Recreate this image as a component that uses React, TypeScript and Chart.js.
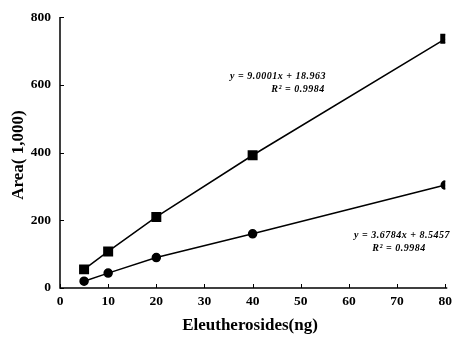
import React, { useEffect, useRef } from "react";
import { Chart, registerables } from "chart.js";

Chart.register(...registerables);

const concentrations = [5, 10, 20, 40, 80];
const seriesA = [55, 108, 210, 392, 736];
const seriesB = [20, 44, 90, 160, 304];
const xTicks = [0, 10, 20, 30, 40, 50, 60, 70, 80];
const yTicks = [0, 200, 400, 600, 800];
const xTitle = "Eleutherosides(ng)";
const yTitle = "Area( 1,000)";
const eqA = ["y = 9.0001x + 18.963", "R² = 0.9984"];
const eqB = ["y = 3.6784x + 8.5457", "R² = 0.9984"];

const SERIF = "'Liberation Serif', 'DejaVu Serif', serif";

const decorPlugin = {
  id: "decor",
  afterDraw(chart: any) {
    const { ctx, chartArea, scales } = chart;
    const xs = scales.x;
    const ys = scales.y;
    ctx.save();
    ctx.strokeStyle = "#000";
    ctx.lineWidth = 1.5;
    ctx.beginPath();
    ctx.moveTo(chartArea.left, chartArea.top);
    ctx.lineTo(chartArea.left, chartArea.bottom);
    ctx.lineTo(chartArea.right + 2, chartArea.bottom);
    ctx.stroke();
    ctx.lineWidth = 1;
    ctx.beginPath();
    xTicks.forEach((v) => {
      const px = Math.round(xs.getPixelForValue(v)) + 0.5;
      ctx.moveTo(px, chartArea.bottom);
      ctx.lineTo(px, chartArea.bottom - 4);
    });
    yTicks.forEach((v) => {
      const py = Math.round(ys.getPixelForValue(v)) + 0.5;
      ctx.moveTo(chartArea.left, py);
      ctx.lineTo(chartArea.left + 4, py);
    });
    ctx.stroke();
    ctx.fillStyle = "#000";
    ctx.font = `bold 17px ${SERIF}`;
    ctx.textAlign = "center";
    ctx.textBaseline = "middle";
    ctx.fillText(xTitle, 250, 326);
    ctx.save();
    ctx.translate(19, 155);
    ctx.rotate(-Math.PI / 2);
    ctx.fillText(yTitle, 0, 0);
    ctx.restore();
    ctx.font = `italic bold 10px ${SERIF}`;
    (ctx as any).letterSpacing = "0.5px";
    ctx.fillText(eqA[0], 278, 76);
    ctx.fillText(eqA[1], 298, 89);
    ctx.fillText(eqB[0], 402, 235);
    ctx.fillText(eqB[1], 399, 248);
    ctx.restore();
  },
};

export default function App() {
  const ref = useRef<HTMLCanvasElement | null>(null);
  useEffect(() => {
    if (!ref.current) return;
    const chart = new Chart(ref.current, {
      type: "scatter",
      data: {
        datasets: [
          {
            data: concentrations.map((x, i) => ({ x, y: seriesA[i] })),
            showLine: true,
            borderColor: "#000",
            backgroundColor: "#000",
            borderWidth: 1.5,
            pointStyle: "rect",
            pointRadius: 6,
          },
          {
            data: concentrations.map((x, i) => ({ x, y: seriesB[i] })),
            showLine: true,
            borderColor: "#000",
            backgroundColor: "#000",
            borderWidth: 1.5,
            pointStyle: "circle",
            pointRadius: 4,
          },
        ],
      },
      options: {
        responsive: false,
        animation: false,
        layout: { padding: { top: 13, right: 7, left: 0, bottom: 0 } },
        plugins: { legend: { display: false }, tooltip: { enabled: false } },
        scales: {
          x: {
            type: "linear",
            min: 0,
            max: 80,
            border: { display: false },
            grid: { display: false, drawTicks: false },
            afterBuildTicks: (s: any) => {
              s.ticks = xTicks.map((v) => ({ value: v }));
            },
            afterFit: (s: any) => {
              s.height = 64;
            },
            ticks: {
              padding: 5,
              color: "#000",
              font: { family: SERIF, weight: "bold", size: 13.5 },
              maxRotation: 0,
            },
          },
          y: {
            type: "linear",
            min: 0,
            max: 800,
            border: { display: false },
            grid: { display: false, drawTicks: false },
            afterBuildTicks: (s: any) => {
              s.ticks = yTicks.map((v) => ({ value: v }));
            },
            afterFit: (s: any) => {
              s.width = 60;
            },
            ticks: {
              padding: 9,
              color: "#000",
              font: { family: SERIF, weight: "bold", size: 13.5 },
            },
          },
        },
      },
      plugins: [decorPlugin],
    } as any);
    return () => chart.destroy();
  }, []);
  return (
    <div style={{ position: "fixed", left: 0, top: 0, width: 457, height: 352, background: "#fff" }}>
      <canvas ref={ref} width={457} height={352} />
    </div>
  );
}
